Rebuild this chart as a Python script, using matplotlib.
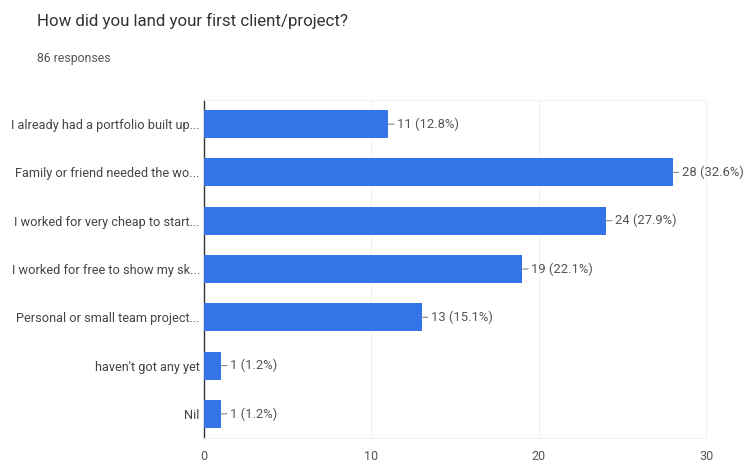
import matplotlib.pyplot as plt

# survey answers, top to bottom
answers = [
    "I already had a portfolio built up...",
    "Family or friend needed the wo...",
    "I worked for very cheap to start...",
    "I worked for free to show my sk...",
    "Personal or small team project...",
    "haven't got any yet",
    "Nil",
]
counts = [11, 28, 24, 19, 13, 1, 1]
percents = [12.8, 32.6, 27.9, 22.1, 15.1, 1.2, 1.2]
xticks = [0, 10, 20, 30]

plt.rcParams['font.family'] = ['Roboto', 'DejaVu Sans']

fig = plt.figure(figsize=(7.48, 4.69), dpi=100)
ax = fig.add_axes([0.2727, 0.0661, 0.6712, 0.7207])

ypos = list(range(len(answers)))
ax.barh(ypos, counts, height=0.58, color='#3574E8', zorder=3)

for y, c, p in zip(ypos, counts, percents):
    ax.annotate(f"{c} ({p}%)", xy=(c, y), xytext=(9, 0), textcoords='offset pixels',
                va='center', ha='left', fontsize=9.4, color='#555555',
                arrowprops=dict(arrowstyle='-', color='#888888', lw=0.8,
                                shrinkA=0, shrinkB=0))

ax.set_xlim(0, 30)
ax.set_ylim(len(answers) - 0.5, -0.5)
ax.set_yticks(ypos)
ax.set_yticklabels(answers, fontsize=9.2, color='#444444')
ax.set_xticks(xticks)
ax.set_xticklabels([str(t) for t in xticks], fontsize=9, color='#555555')
ax.tick_params(axis='both', length=0)
ax.tick_params(axis='x', pad=9)
ax.tick_params(axis='y', pad=3)

ax.grid(axis='x', color='#f0f0f0', lw=0.8, zorder=0)
for s in ['top', 'right', 'bottom']:
    ax.spines[s].set_color('#f2f2f2')
ax.spines['left'].set_color('#333333')
ax.spines['left'].set_linewidth(1.0)

fig.text(0.049, 0.955, "How did you land your first client/project?", fontsize=12.2,
         color='#333333', va='center', ha='left')
fig.text(0.049, 0.876, "86 responses", fontsize=8.8, color='#555555', va='center', ha='left')

fig.savefig('out.png', dpi=100)
